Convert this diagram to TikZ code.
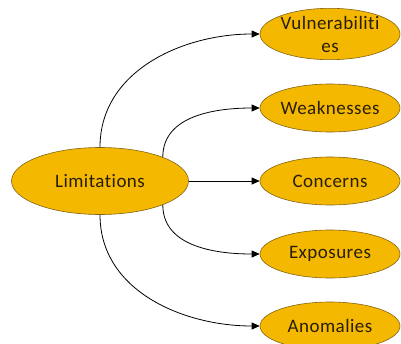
\documentclass[tikz,border=0pt]{standalone}
\usepackage{fontspec}
\setmainfont[Ligatures=CommonOff,LetterSpace=2.5]{Carlito}
\usetikzlibrary{shapes.geometric,arrows.meta}
\definecolor{amber}{RGB}{245,184,0}
\definecolor{amberline}{RGB}{130,100,20}
\definecolor{labeltext}{RGB}{40,30,10}
\begin{document}
\begin{tikzpicture}[x=1pt,y=-1pt,
  bubble/.style={ellipse,draw=amberline,line width=0.6pt,fill=amber,
    text=labeltext,inner sep=0pt,align=center,
    font=\fontsize{19}{23}\selectfont},
  rootbubble/.style={bubble,minimum width=177pt,minimum height=67pt},
  leafbubble/.style={bubble,minimum width=140pt,minimum height=48pt},
  link/.style={draw=black,line width=0.8pt,-{Triangle[length=8pt,width=7pt]}}]
  \useasboundingbox (0,0) rectangle (401,343);
  \clip (0,0) rectangle (401,343);

  \node[rootbubble] (lim) at (100,181) {Limitations};

  \node[leafbubble] (vul) at (330,34)  {Vulnerabiliti\\es};
  \node[leafbubble] (wea) at (330,108) {Weaknesses};
  \node[leafbubble] (con) at (330,181) {Concerns};
  \node[leafbubble] (exp) at (330,254) {Exposures};
  \node[leafbubble] (ano) at (330,326) {Anomalies};

  \draw[link] (lim.north) to[out=90,in=180] (vul.west);
  \draw[link] (lim.north east) to[out=90,in=180] (wea.west);
  \draw[link] (lim.east) -- (con.west);
  \draw[link] (lim.south east) to[out=-90,in=180] (exp.west);
  \draw[link] (lim.south) to[out=-90,in=180] (ano.west);
\end{tikzpicture}
\end{document}
